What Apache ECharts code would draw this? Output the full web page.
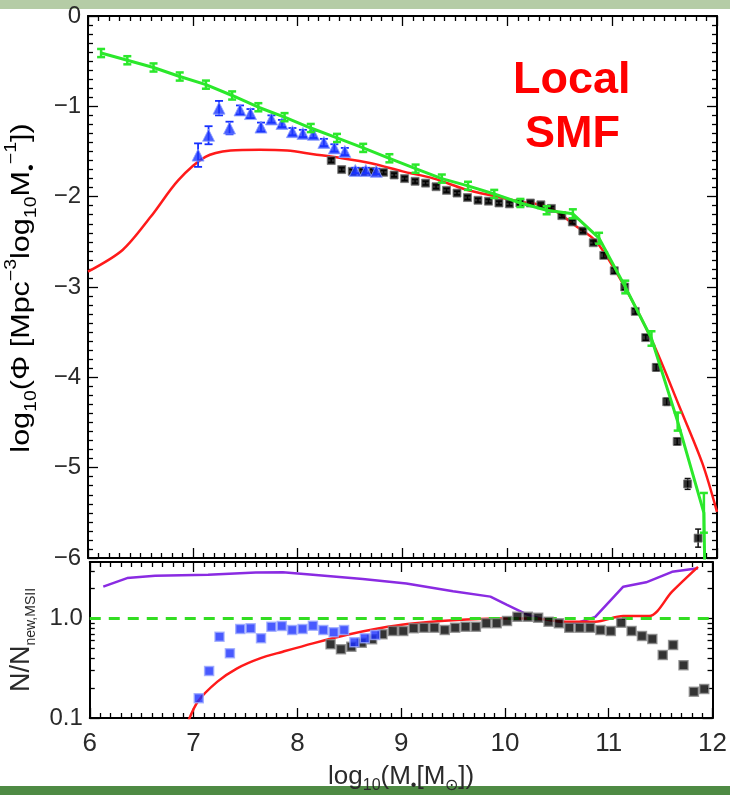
<!DOCTYPE html>
<html><head><meta charset="utf-8">
<script src="https://cdn.jsdelivr.net/npm/echarts@6/dist/echarts.min.js"></script>
<style>html,body{margin:0;padding:0;background:#fff}#c{width:730px;height:795px}</style>
</head><body><div id="c"></div>
<script>
const FONT = "'Liberation Sans', Arial, Helvetica, sans-serif";

// ---------- top panel : log10(Phi) ----------
const xTicks = [6, 7, 8, 9, 10, 11, 12];
const phiTicks = [0, -1, -2, -3, -4, -5, -6];

const greenX = [6.125,6.375,6.625,6.875,7.125,7.375,7.625,7.875,8.125,8.375,8.625,8.875,9.125,9.375,9.625,9.875,10.125,10.375,10.625,10.875,11.125,11.375,11.625,11.875,11.89];
const greenY = [-0.41,-0.49,-0.57,-0.67,-0.76,-0.88,-1.01,-1.12,-1.24,-1.35,-1.46,-1.575,-1.69,-1.80,-1.88,-1.97,-2.07,-2.15,-2.19,-2.46,-3.00,-3.57,-4.49,-5.50,-6.6];
const greenErr = [0.045,0.045,0.045,0.045,0.045,0.045,0.045,0.045,0.045,0.045,0.045,0.045,0.045,0.045,0.045,0.045,0.045,0.045,0.05,0.06,0.07,0.08,0.10,0.22,null];

const redX = [6.0,6.33,6.6,6.86,7.12,7.36,7.64,7.9,8.15,8.4,8.7,9.0,9.3,9.6,9.9,10.1,10.4,10.66,10.85,11.12,11.39,11.64,11.86,12.0];
const redY = [-2.83,-2.59,-2.22,-1.82,-1.56,-1.49,-1.48,-1.49,-1.53,-1.57,-1.63,-1.72,-1.80,-1.92,-2.00,-2.05,-2.12,-2.33,-2.50,-3.0,-3.62,-4.32,-4.95,-5.49];

const blueX = [7.05,7.15,7.25,7.35,7.45,7.55,7.65,7.75,7.85,7.95,8.05,8.15,8.25,8.35,8.45,8.55,8.65,8.75];
const blueY = [-1.54,-1.32,-1.02,-1.24,-1.04,-1.08,-1.23,-1.14,-1.19,-1.28,-1.30,-1.31,-1.40,-1.46,-1.50,-1.71,-1.71,-1.72];
const blueErr = [0.13,0.10,0.08,0.07,0.05,0.05,0.05,0.04,0.04,0.04,0.04,0.04,0.04,0.04,0.04,0.03,0.03,0.03];

const blackX = [8.32,8.42,8.52,8.62,8.72,8.82,8.92,9.02,9.12,9.22,9.32,9.42,9.52,9.62,9.72,9.82,9.92,10.02,10.12,10.22,10.32,10.42,10.52,10.62,10.72,10.82,10.92,11.02,11.12,11.22,11.32,11.42,11.52,11.62,11.72,11.82];
const blackY = [-1.60,-1.70,-1.72,-1.72,-1.72,-1.73,-1.76,-1.80,-1.83,-1.85,-1.89,-1.93,-1.96,-2.01,-2.04,-2.05,-2.07,-2.08,-2.07,-2.07,-2.09,-2.13,-2.21,-2.28,-2.38,-2.51,-2.65,-2.82,-3.00,-3.27,-3.56,-3.89,-4.27,-4.71,-5.18,-5.78];
const blackErr = [0.02,0.02,0.02,0.02,0.02,0.02,0.02,0.02,0.02,0.02,0.02,0.02,0.02,0.02,0.02,0.02,0.02,0.02,0.02,0.02,0.02,0.02,0.02,0.02,0.02,0.02,0.03,0.03,0.03,0.03,0.03,0.04,0.04,0.04,0.06,0.10];

// ---------- bottom panel : N / N_new,MSII ----------
const ratioTicks = [0.1, 1.0];
const ratioMinor = [0.2,0.3,0.4,0.5,0.6,0.7,0.8,0.9,2,3];
const ratioRef = [[6, 1.0], [12, 1.0]];

const purpleX = [6.13,6.36,6.63,7.14,7.6,7.86,8.15,8.63,9.05,9.5,9.86,10.02,10.21,10.34,10.53,10.69,10.87,11.14,11.36,11.61,11.86];
const purpleR = [2.09,2.55,2.69,2.75,2.9,2.92,2.75,2.49,2.25,1.88,1.66,1.37,1.10,1.0,0.93,0.90,1.04,2.09,2.31,2.95,3.2];

const redRX = [6.94,7.04,7.23,7.42,7.64,7.86,8.15,8.47,8.79,9.06,9.5,9.93,10.3,10.56,10.87,11.14,11.39,11.61,11.86];
const redR = [0.088,0.146,0.232,0.316,0.398,0.464,0.563,0.683,0.797,0.88,0.96,1.0,1.0,0.93,0.93,1.06,1.06,1.86,3.3];

const blueRX = [7.05,7.15,7.25,7.35,7.45,7.55,7.65,7.75,7.85,7.95,8.05,8.15,8.25,8.35,8.45,8.55,8.65,8.75];
const blueR = [0.158,0.297,0.656,0.447,0.784,0.797,0.632,0.827,0.841,0.766,0.784,0.847,0.766,0.727,0.766,0.577,0.632,0.683];

const blackRX = [8.32,8.42,8.52,8.62,8.72,8.82,8.92,9.02,9.12,9.22,9.32,9.42,9.52,9.62,9.72,9.82,9.92,10.02,10.12,10.22,10.32,10.42,10.52,10.62,10.72,10.82,10.92,11.02,11.12,11.22,11.32,11.42,11.52,11.62,11.72,11.82,11.92];
const blackR = [0.55,0.49,0.52,0.57,0.62,0.694,0.749,0.749,0.797,0.81,0.81,0.766,0.81,0.827,0.827,0.895,0.895,0.944,1.04,1.04,1.02,0.93,0.895,0.81,0.81,0.81,0.766,0.749,0.908,0.749,0.667,0.622,0.43,0.542,0.34,0.184,0.196];

// ---------- helpers ----------
const zip = (a, b) => a.map((v, i) => [v, b[i]]);
const errData = (xs, ys, es) => xs.map((x, i) => es[i] == null ? null : [x, ys[i] - es[i], ys[i] + es[i]]).filter(d => d);

function errRender(color, capW, lw) {
  return function (params, api) {
    const x = api.value(0), lo = api.value(1), hi = api.value(2);
    const p1 = api.coord([x, lo]), p2 = api.coord([x, hi]);
    const style = { stroke: color, lineWidth: lw };
    return { type: 'group', children: [
      { type: 'line', shape: { x1: p1[0], y1: p1[1], x2: p2[0], y2: p2[1] }, style },
      { type: 'line', shape: { x1: p1[0] - capW, y1: p1[1], x2: p1[0] + capW, y2: p1[1] }, style },
      { type: 'line', shape: { x1: p2[0] - capW, y1: p2[1], x2: p2[0] + capW, y2: p2[1] }, style }
    ] };
  };
}

const frame = { color: '#000', width: 2 };
const tickStyle = { color: '#000', width: 1.3 };
const labelColor = '#2a2a2a';

function xAx(grid, pos, showLabel, name) {
  const ax = {
    type: 'value', gridIndex: grid, position: pos, min: xTicks[0], max: xTicks[xTicks.length - 1], interval: 1,
    axisLine: { show: true, onZero: false, lineStyle: frame },
    axisTick: { show: true, inside: true, length: 10, lineStyle: tickStyle },
    minorTick: { show: true, splitNumber: 10, length: 5, lineStyle: tickStyle },
    axisLabel: { show: showLabel, fontFamily: FONT, fontSize: 26, color: labelColor, margin: 13 },
    splitLine: { show: false }, minorSplitLine: { show: false }
  };
  if (name) {
    ax.name = name.text; ax.nameLocation = 'middle'; ax.nameGap = name.gap;
    ax.nameTextStyle = name.style;
  }
  return ax;
}

function phiAx(pos, showLabel) {
  return {
    type: 'value', gridIndex: 0, position: pos, min: phiTicks[6], max: phiTicks[0], interval: 1,
    axisLine: { show: true, onZero: false, lineStyle: frame },
    axisTick: { show: true, inside: true, length: 10, lineStyle: tickStyle },
    minorTick: { show: true, splitNumber: 10, length: 5, lineStyle: tickStyle },
    axisLabel: { show: showLabel, fontFamily: FONT, fontSize: 24, color: labelColor, margin: 7,
      formatter: v => v === 0 ? '0' : '\u2212' + Math.abs(v) },
    splitLine: { show: false }, minorSplitLine: { show: false }
  };
}

function ratioAx(pos, major, showLabel) {
  return {
    type: 'log', logBase: 10, gridIndex: 1, position: pos, min: 0.1, max: 3.7,
    axisLine: { show: major, onZero: false, lineStyle: frame },
    axisTick: { show: true, inside: true, length: major ? 10 : 5, lineStyle: tickStyle,
      customValues: major ? ratioTicks : ratioMinor },
    axisLabel: { show: showLabel, fontFamily: FONT, fontSize: 24, color: labelColor, margin: 7,
      customValues: ratioTicks, formatter: v => v < 0.5 ? '0.1' : '1.0' },
    splitLine: { show: false }
  };
}

const subBase = { fontFamily: FONT, color: labelColor };

const yTitleTopRich = {
  a: Object.assign({ fontSize: 25, lineHeight: 36 }, subBase),
  s: Object.assign({ fontSize: 16, lineHeight: 16, verticalAlign: 'bottom' }, subBase),
  p: Object.assign({ fontSize: 16, lineHeight: 16, verticalAlign: 'top' }, subBase)
};

const xTitle = {
  text: '{a|log}{s|10}{a|(M}{s|\u2022}{a|[M}{s|\u2299}{a|])}',
  gap: 42,
  style: { rich: {
    a: Object.assign({ fontSize: 26, lineHeight: 34 }, subBase),
    s: Object.assign({ fontSize: 16, lineHeight: 16, verticalAlign: 'bottom' }, subBase)
  } }
};

const chart = echarts.init(document.getElementById('c'), null, { renderer: 'canvas' });

const option = {
  backgroundColor: '#fff',
  animation: false,
  grid: [
    { left: 88, top: 16, width: 629, height: 542 },
    { left: 88, top: 562, width: 629, height: 157 }
  ],
  xAxis: [
    xAx(0, 'bottom', false),
    xAx(0, 'top', false),
    xAx(1, 'bottom', true, xTitle),
    xAx(1, 'top', false)
  ],
  yAxis: [
    phiAx('left', true),
    phiAx('right', false),
    Object.assign(ratioAx('left', true, true), {
      name: '{a|N/N}{s|new,MSII}', nameLocation: 'middle', nameGap: 45, nameRotate: 90,
      nameTextStyle: { rich: {
        a: Object.assign({ fontSize: 27, lineHeight: 34 }, subBase),
        s: Object.assign({ fontSize: 14, lineHeight: 14, verticalAlign: 'bottom' }, subBase)
      } } }),
    ratioAx('left', false, false),
    ratioAx('right', true, false),
    ratioAx('right', false, false)
  ],
  graphic: [
    { type: 'rect', left: 0, top: 0, shape: { width: 730, height: 9 }, style: { fill: '#b5cca6' }, z: -1 },
    { type: 'rect', left: 0, top: 786, shape: { width: 730, height: 9 }, style: { fill: '#4e8a44' }, z: -1 },
    { type: 'text', x: 22, y: 288, rotation: Math.PI / 2, scaleX: 1.22,
      style: { text: '{a|log}{s|10}{a|(Φ [Mpc}{p|\u22123}{a|log}{s|10}{a|M}{s|\u2022}{p|\u22121}{a|])}',
        rich: yTitleTopRich, align: 'center', verticalAlign: 'middle' } },
    { type: 'text', left: 513, top: 58, style: { text: 'Local', font: 'bold 45px ' + FONT, fill: '#ff0000' } },
    { type: 'text', left: 525, top: 112, style: { text: 'SMF', font: 'bold 45px ' + FONT, fill: '#ff0000' } }
  ],
  series: [
    // top panel
    { type: 'line', xAxisIndex: 0, yAxisIndex: 0, data: zip(redX, redY), smooth: 0.3, showSymbol: false,
      lineStyle: { color: '#ff1a1a', width: 2.5 }, z: 2 },
    { type: 'custom', xAxisIndex: 0, yAxisIndex: 0, data: errData(blackX, blackY, blackErr),
      renderItem: errRender('#111', 3, 1.5), encode: { x: 0, y: [1, 2] }, clip: true, z: 3 },
    { type: 'scatter', xAxisIndex: 0, yAxisIndex: 0, data: zip(blackX, blackY), symbol: 'rect', symbolSize: 8,
      itemStyle: { color: '#000', borderColor: '#777', borderWidth: 1 }, z: 3 },
    { type: 'custom', xAxisIndex: 0, yAxisIndex: 0, data: errData(blueX, blueY, blueErr),
      renderItem: errRender('#1530ff', 4, 1.8), encode: { x: 0, y: [1, 2] }, clip: true, z: 4 },
    { type: 'scatter', xAxisIndex: 0, yAxisIndex: 0, data: zip(blueX, blueY), symbol: 'triangle', symbolSize: 12,
      itemStyle: { color: '#1a35ff', borderColor: '#8fa0ff', borderWidth: 1 }, z: 4 },
    { type: 'line', xAxisIndex: 0, yAxisIndex: 0, data: zip(greenX, greenY), showSymbol: false,
      lineStyle: { color: '#2be82b', width: 3 }, z: 5 },
    { type: 'custom', xAxisIndex: 0, yAxisIndex: 0, data: errData(greenX, greenY, greenErr),
      renderItem: errRender('#2be82b', 4, 2.5), encode: { x: 0, y: [1, 2] }, clip: true, z: 5 },
    // bottom panel
    { type: 'line', xAxisIndex: 2, yAxisIndex: 2, data: zip(purpleX, purpleR), showSymbol: false,
      lineStyle: { color: '#8a2be2', width: 2.5 }, z: 2 },
    { type: 'line', xAxisIndex: 2, yAxisIndex: 2, data: zip(redRX, redR), smooth: 0.3, showSymbol: false,
      lineStyle: { color: '#ff1a1a', width: 2.5 }, z: 2 },
    { type: 'line', xAxisIndex: 2, yAxisIndex: 2, data: ratioRef, showSymbol: false,
      lineStyle: { color: '#33dd22', width: 3, type: [11, 8] }, z: 3 },
    { type: 'scatter', xAxisIndex: 2, yAxisIndex: 2, data: zip(blackRX, blackR), symbol: 'rect', symbolSize: 9,
      itemStyle: { color: '#000', borderColor: '#888', borderWidth: 1.5 }, z: 4 },
    { type: 'scatter', xAxisIndex: 2, yAxisIndex: 2, data: zip(blueRX, blueR), symbol: 'rect', symbolSize: 9,
      itemStyle: { color: '#1a30ff', borderColor: '#9aa8ff', borderWidth: 1.5 }, z: 5 }
  ]
};
chart.setOption(option);
</script></body></html>
